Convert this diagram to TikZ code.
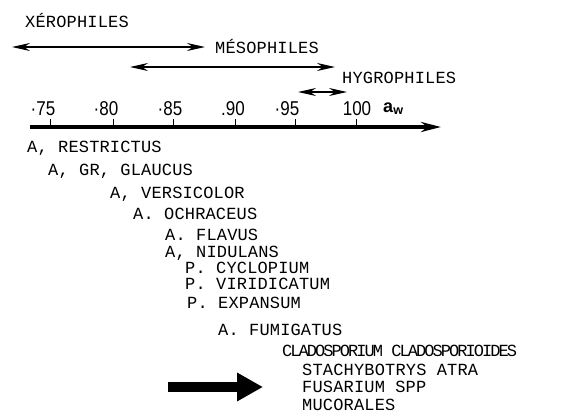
\documentclass[tikz,border=0pt]{standalone}
\usepackage{fontspec}
\usepackage{graphicx}
\setmainfont{Liberation Sans}
\newfontfamily\labfont[LetterSpace=1]{Liberation Mono}
\newfontfamily\narfont[LetterSpace=-11.5]{Liberation Mono}
\usetikzlibrary{arrows.meta}
\newcommand\numtxt[1]{\scalebox{0.85}[1]{#1}}
\begin{document}
\begin{tikzpicture}[x=1pt,y=-1pt,
  lab/.style={font={\labfont\fontsize{17pt}{19pt}\selectfont}, inner sep=0pt, anchor=base west},
  narlab/.style={font={\narfont\fontsize{17pt}{19pt}\selectfont}, inner sep=0pt, anchor=base west},
  num/.style={font={\fontsize{20pt}{22pt}\selectfont}, inner sep=0pt, anchor=base},
  rng/.style={line width=1.2pt, {Stealth[length=18pt,width=8pt]}-{Stealth[length=18pt,width=8pt]}},
  axis/.style={line width=3.5pt, -{Stealth[length=20pt,width=10pt]}},
  tick/.style={line width=1pt},
  bigarrow/.style={line width=10pt, -{Triangle[length=26pt,width=27pt]}}]
\useasboundingbox (0,0) rectangle (571,418);
% range labels
\node[lab] (xero) at (25,27) {XÉROPHILES};
\node[lab] (meso) at (215,53) {MÉSOPHILES};
\node[lab] (hygro) at (342,83) {HYGROPHILES};
% range arrows
\coordinate (x0) at (12,47);  \coordinate (x1) at (205,47);
\coordinate (m0) at (130,67); \coordinate (m1) at (335,67);
\coordinate (h0) at (298,92); \coordinate (h1) at (347,92);
\draw[rng] (x0) -- (x1);
\draw[rng] (m0) -- (m1);
\draw[rng] (h0) -- (h1);
% axis
\coordinate (ax0) at (30,127); \coordinate (ax1) at (441,127);
\draw[axis] (ax0) -- (ax1);
\foreach \t in {50,113,173,235,295,356} \draw[tick] (\t,119) -- (\t,127);
\node[num] (n75) at (43,115) {\numtxt{·75}};
\node[num] (n80) at (106,115) {\numtxt{·80}};
\node[num] (n85) at (170,115) {\numtxt{·85}};
\node[num] (n90) at (233,115) {\numtxt{.90}};
\node[num] (n95) at (287,115) {\numtxt{·95}};
\node[num] (n100) at (357,115) {\numtxt{100}};
\node[inner sep=0pt, anchor=base west, font={\fontsize{18pt}{20pt}\selectfont}] (aw) at (383,112) {\textbf{a}\textsubscript{\textbf{w}}};
% species
\node[lab] (s1) at (27,152) {A, RESTRICTUS};
\node[lab] (s2) at (48,175) {A, GR, GLAUCUS};
\node[lab] (s3) at (110,198) {A, VERSICOLOR};
\node[lab] (s4) at (133,219) {A. OCHRACEUS};
\node[lab] (s5) at (165,240) {A. FLAVUS};
\node[lab] (s6) at (165,257) {A, NIDULANS};
\node[lab] (s7) at (185,273) {P. CYCLOPIUM};
\node[lab] (s8) at (185,289) {P. VIRIDICATUM};
\node[lab] (s9) at (187,308) {P. EXPANSUM};
\node[lab] (s10) at (218,335) {A. FUMIGATUS};
\node[narlab] (s11) at (282,356) {CLADOSPORIUM CLADOSPORIOIDES};
\node[lab] (s12) at (302,375) {STACHYBOTRYS ATRA};
\node[lab] (s13) at (302,392) {FUSARIUM SPP};
\node[lab] (s14) at (302,410) {MUCORALES};
% big arrow
\coordinate (b0) at (168,387); \coordinate (b1) at (263,387);
\draw[bigarrow] (b0) -- (b1);
\end{tikzpicture}
\end{document}
